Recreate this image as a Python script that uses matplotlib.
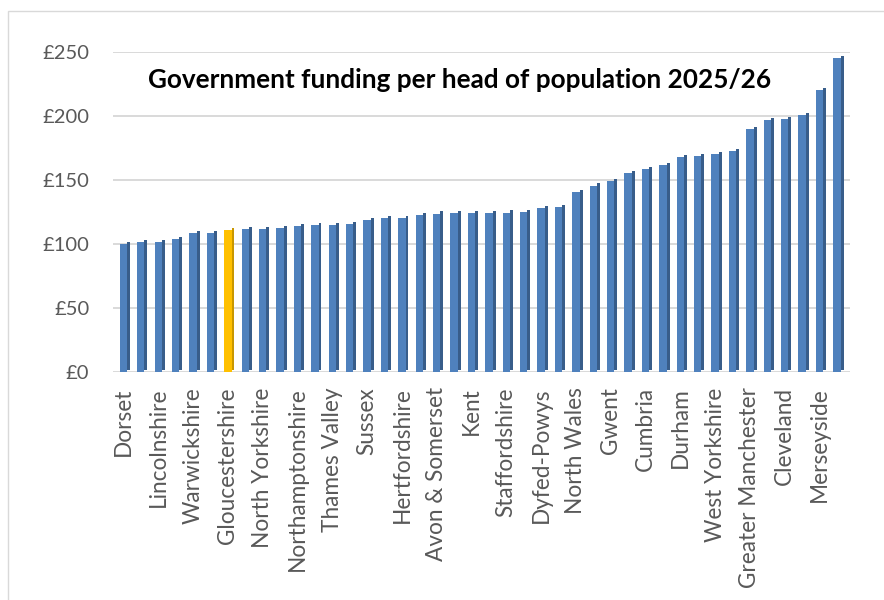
import numpy as np
import matplotlib
matplotlib.use("Agg")
import matplotlib.pyplot as plt
from matplotlib.patches import Rectangle

# funding per head (GBP), sorted, one per police force
values = [100, 101.6, 101.8, 104, 108.5, 108.8, 111, 111.9, 112, 112.4,
          114.2, 114.5, 114.5, 115.3, 118.9, 120.5, 120.5, 122.5, 123.8, 124.1,
          124.2, 124.3, 124.6, 125.2, 128.3, 128.8, 140.3, 145.7, 149.1, 155.3,
          158.7, 161.6, 167.8, 168.6, 170.1, 172.5, 189.6, 196.6, 197.4, 200.5,
          220.5, 245.5]
# only every other force is labelled on the axis
labels = ["Dorset", "Lincolnshire", "Warwickshire", "Gloucestershire",
          "North Yorkshire", "Northamptonshire", "Thames Valley", "Sussex",
          "Hertfordshire", "Avon & Somerset", "Kent", "Staffordshire",
          "Dyfed-Powys", "North Wales", "Gwent", "Cumbria", "Durham",
          "West Yorkshire", "Greater Manchester", "Cleveland", "Merseyside"]
highlight = "Gloucestershire"
yticks = [0, 50, 100, 150, 200, 250]

plt.rcParams['font.family'] = ['Lato', 'DejaVu Sans']

fig = plt.figure(figsize=(8.84, 6.0), dpi=100)
fig.patches.append(Rectangle((8 / 884, -0.1), 1.2, 1 - 11 / 600 + 0.1,
                             transform=fig.transFigure, fill=False,
                             edgecolor="#d9d9d9", linewidth=1.0))
ax = fig.add_axes([113 / 884, 1 - 372 / 600, 737 / 884, 320 / 600])

x = np.arange(len(values))
vals = np.array(values)
hi = 2 * labels.index(highlight)
front = ["#4F81BD"] * len(values)
side = ["#385D8A"] * len(values)
front[hi] = "#FFC000"
side[hi] = "#C99700"

w = 0.42
d = 0.17
dy = 1.6
for g in yticks:
    ax.axhline(g, color="#d9d9d9", linewidth=1.4, zorder=0)
ax.bar(x + w / 2 + d / 2, vals, width=d, bottom=dy, color=side, zorder=2)
ax.bar(x, vals, width=w, color=front, zorder=3)

ax.set_xlim(-0.6, 41.75)
ax.set_ylim(0, 250)
ax.set_yticks(yticks)
ax.set_yticklabels(["£%d" % v for v in yticks])
ax.set_xticks(x[::2])
ax.set_xticklabels(labels, rotation=90, va="top", ha="center")
ax.tick_params(axis="y", length=0, pad=17, labelsize=14.5, labelcolor="#595959")
ax.tick_params(axis="x", length=0, pad=11, labelsize=16.3, labelcolor="#595959")
for s in ax.spines.values():
    s.set_visible(False)
ax.patch.set_alpha(0)

fig.text(460 / 884, 1 - 80 / 600, "Government funding per head of population 2025/26",
         ha="center", va="center", fontsize=18.8, fontweight="bold", color="black")

fig.savefig("out.png", dpi=100)
